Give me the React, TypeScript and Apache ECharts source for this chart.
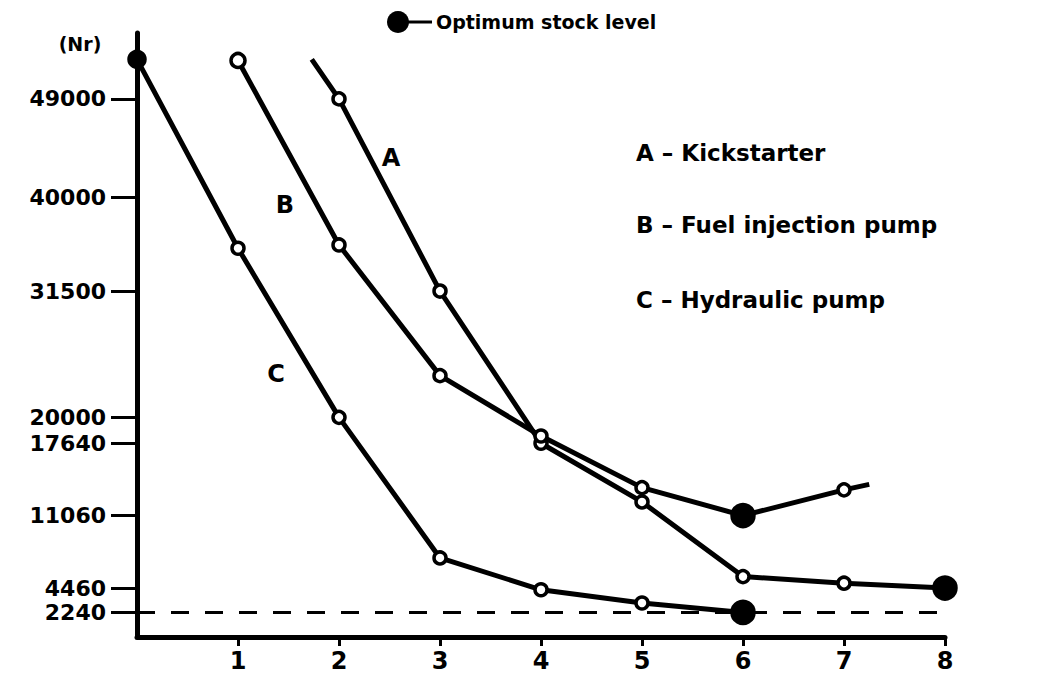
import React, { useEffect, useRef } from "react";
import * as echarts from "echarts";

// x-axis tick labels (periods) and y-axis marked stock values
const xTicks = [1, 2, 3, 4, 5, 6, 7, 8];
const yTicks = [2240, 4460, 11060, 17640, 20000, 31500, 40000, 49000];

// A - Kickstarter
const aX = [1.73, 2, 3, 4, 5, 6, 7, 8];
const aY = [52600, 49000, 31500, 17640, 12300, 5500, 4900, 4460];
// B - Fuel injection pump
const bX = [1, 2, 3, 4, 5, 6, 7, 7.25];
const bY = [52500, 35700, 23800, 18300, 13600, 11060, 13400, 13900];
// C - Hydraulic pump
const cX = [0, 1, 2, 3, 4, 5, 6];
const cY = [52600, 35400, 20000, 7200, 4300, 3100, 2240];

// index of optimum stock level per series
const optA = 7;
const optB = 5;
const optC = 6;
const dashedLevel = 2240;

const FONT = "DejaVu Sans";

function buildData(xs: number[], ys: number[], opt: number, special: Record<number, any>) {
  return xs.map((x, i) => {
    if (i === opt) {
      return { value: [x, ys[i]], symbolSize: 22, itemStyle: { color: "#000", borderColor: "#000" } };
    }
    if (special[i]) return { value: [x, ys[i]], ...special[i] };
    return { value: [x, ys[i]] };
  });
}

export default function App() {
  const ref = useRef<HTMLDivElement>(null);
  useEffect(() => {
    const chart = echarts.init(ref.current!, null, { renderer: "svg" });
    const lineStyle = { color: "#000", width: 5 };
    const itemStyle = { color: "#fff", borderColor: "#000", borderWidth: 3.5 };
    chart.setOption({
      animation: false,
      backgroundColor: "#fff",
      grid: { left: 137, right: 92, top: 33, bottom: 39 },
      xAxis: {
        type: "value",
        min: 0,
        max: 8,
        axisLine: { show: true, lineStyle: { color: "#000", width: 5 } },
        axisTick: { show: true, customValues: xTicks, length: 9, lineStyle: { color: "#000", width: 3 } },
        axisLabel: {
          customValues: xTicks,
          formatter: (v: number) => String(v),
          color: "#000",
          fontFamily: FONT,
          fontWeight: "bold",
          fontSize: 24,
          margin: 12,
          showMinLabel: true,
          showMaxLabel: true,
        },
        splitLine: { show: false },
      },
      yAxis: {
        type: "value",
        min: 0,
        max: 55000,
        axisLine: { show: true, lineStyle: { color: "#000", width: 5 } },
        axisTick: { show: true, customValues: yTicks, length: 26, lineStyle: { color: "#000", width: 3 } },
        axisLabel: {
          customValues: yTicks,
          hideOverlap: false,
          showMinLabel: true,
          showMaxLabel: true,
          formatter: (v: number) => String(v),
          color: "#000",
          fontFamily: FONT,
          fontWeight: "bold",
          fontSize: 22,
          lineHeight: 15,
          margin: 31,
        },
        splitLine: { show: false },
      },
      series: [
        {
          type: "line",
          name: "A",
          clip: false,
          symbol: "circle",
          symbolSize: 12,
          itemStyle,
          lineStyle,
          data: buildData(aX, aY, optA, { 0: { symbol: "none" } }),
        },
        {
          type: "line",
          name: "B",
          clip: false,
          symbol: "circle",
          symbolSize: 12,
          itemStyle,
          lineStyle,
          data: buildData(bX, bY, optB, { 0: { symbolSize: 14 }, 7: { symbol: "none" } }),
        },
        {
          type: "line",
          name: "C",
          clip: false,
          symbol: "circle",
          symbolSize: 12,
          itemStyle,
          lineStyle,
          data: buildData(cX, cY, optC, { 0: { symbolSize: 16, itemStyle: { color: "#000" } } }),
          markLine: {
            silent: true,
            symbol: "none",
            label: { show: false },
            lineStyle: { color: "#000", width: 3, type: [18, 16] },
            data: [{ yAxis: dashedLevel }],
          },
        },
      ],
      graphic: [
        { type: "circle", shape: { cx: 398, cy: 22, r: 11 }, style: { fill: "#000" } },
        { type: "line", shape: { x1: 405, y1: 22, x2: 432, y2: 22 }, style: { stroke: "#000", lineWidth: 3 } },
        {
          type: "text",
          x: 436,
          y: 22,
          style: { text: "Optimum stock level", fontFamily: FONT, fontWeight: "bold", fontSize: 19, fill: "#000", align: "left", verticalAlign: "middle" },
        },
        {
          type: "text",
          x: 80,
          y: 44,
          style: { text: "(Nr)", fontFamily: FONT, fontWeight: "bold", fontSize: 19, fill: "#000", align: "center", verticalAlign: "middle" },
        },
        {
          type: "text",
          x: 391,
          y: 158,
          style: { text: "A", fontFamily: FONT, fontWeight: "bold", fontSize: 24, fill: "#000", align: "center", verticalAlign: "middle" },
        },
        {
          type: "text",
          x: 285,
          y: 205,
          style: { text: "B", fontFamily: FONT, fontWeight: "bold", fontSize: 24, fill: "#000", align: "center", verticalAlign: "middle" },
        },
        {
          type: "text",
          x: 276,
          y: 374,
          style: { text: "C", fontFamily: FONT, fontWeight: "bold", fontSize: 24, fill: "#000", align: "center", verticalAlign: "middle" },
        },
        {
          type: "text",
          x: 636,
          y: 153,
          style: { text: "A – Kickstarter", fontFamily: FONT, fontWeight: "bold", fontSize: 23, fill: "#000", align: "left", verticalAlign: "middle" },
        },
        {
          type: "text",
          x: 636,
          y: 225,
          style: { text: "B – Fuel injection pump", fontFamily: FONT, fontWeight: "bold", fontSize: 23, fill: "#000", align: "left", verticalAlign: "middle" },
        },
        {
          type: "text",
          x: 636,
          y: 300,
          style: { text: "C – Hydraulic pump", fontFamily: FONT, fontWeight: "bold", fontSize: 23, fill: "#000", align: "left", verticalAlign: "middle" },
        },
      ],
    });
    return () => chart.dispose();
  }, []);
  return (
    <div
      ref={ref}
      style={{ position: "absolute", left: 0, top: 0, width: 1037, height: 676, background: "#fff" }}
    />
  );
}
